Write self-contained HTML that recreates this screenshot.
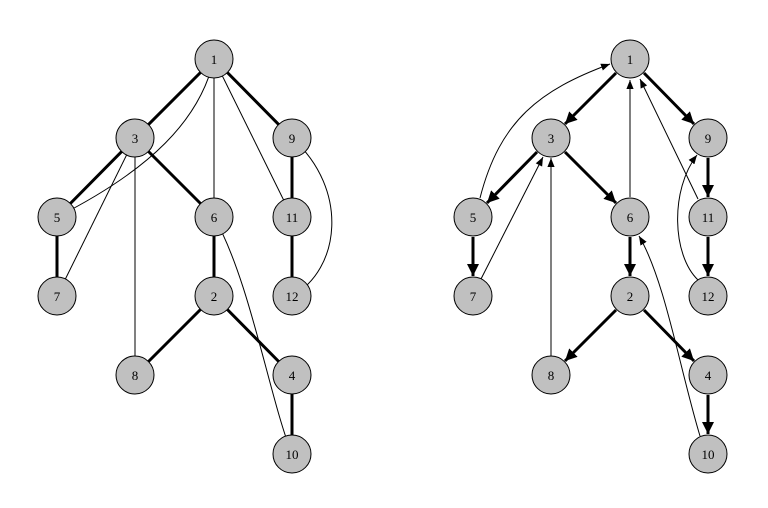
<!DOCTYPE html>
<html><head><style>body{margin:0;background:#fff}svg{display:block}</style></head><body>
<svg width="768" height="508" viewBox="0 0 768 508" xmlns="http://www.w3.org/2000/svg">
<defs>
<marker id="a" viewBox="0 0 10 10" refX="10" refY="5" markerWidth="4" markerHeight="4" orient="auto" markerUnits="strokeWidth"><path d="M0,0L10,5L0,10z" fill="#000"/></marker>
<marker id="b" viewBox="0 0 10 10" refX="10" refY="5" markerWidth="9" markerHeight="9" orient="auto" markerUnits="strokeWidth"><path d="M0,1L10,5L0,9z" fill="#000"/></marker>
</defs>
<g fill="none" stroke="#000">
<g stroke-width="1">
<path d="M214,59 C200,120 150,170 57,217"/>
<path d="M214,59 L214,217"/>
<path d="M214,59 L292,217"/>
<path d="M135,138 L57,296"/>
<path d="M135,138 L135,375"/>
<path d="M292,138 C350,190 340,270 292,296"/>
<path d="M214,217 C250,280 270,400 292,454"/>
</g>
<g stroke-width="3">
<path d="M214,59L135,138M214,59L292,138M135,138L57,217M135,138L214,217M57,217L57,296M292,138L292,217M292,217L292,296M214,217L214,296M214,296L135,375M214,296L292,375M292,375L292,454"/>
</g>
<g stroke-width="1" marker-end="url(#b)">
<path d="M480,198 C500,120 540,90 610,64"/>
<path d="M630,197 L630,80"/>
<path d="M698,199 L640,79"/>
<path d="M481,279 L543,157"/>
<path d="M551,356 L551,158"/>
<path d="M698,280 C672,255 670,190 697,155"/>
<path d="M700,436 C680,370 665,280 639,236"/>
</g>
<g stroke-width="3" marker-end="url(#a)">
<path d="M616,73L565,124"/>
<path d="M644,73L694,124"/>
<path d="M537,152L487,203"/>
<path d="M565,152L616,203"/>
<path d="M473,237L473,276"/>
<path d="M708,158L708,197"/>
<path d="M708,237L708,276"/>
<path d="M630,237L630,276"/>
<path d="M616,310L565,361"/>
<path d="M644,310L694,361"/>
<path d="M708,395L708,434"/>
</g>
</g>
<g fill="#c0c0c0" stroke="#000" stroke-width="1">
<circle cx="214" cy="59" r="19"/><circle cx="135" cy="138" r="19"/><circle cx="292" cy="138" r="19"/>
<circle cx="57" cy="217" r="19"/><circle cx="214" cy="217" r="19"/><circle cx="292" cy="217" r="19"/>
<circle cx="57" cy="296" r="19"/><circle cx="214" cy="296" r="19"/><circle cx="292" cy="296" r="19"/>
<circle cx="135" cy="375" r="19"/><circle cx="292" cy="375" r="19"/><circle cx="292" cy="454" r="19"/>
<circle cx="630" cy="59" r="19"/><circle cx="551" cy="138" r="19"/><circle cx="708" cy="138" r="19"/>
<circle cx="473" cy="217" r="19"/><circle cx="630" cy="217" r="19"/><circle cx="708" cy="217" r="19"/>
<circle cx="473" cy="296" r="19"/><circle cx="630" cy="296" r="19"/><circle cx="708" cy="296" r="19"/>
<circle cx="551" cy="375" r="19"/><circle cx="708" cy="375" r="19"/><circle cx="708" cy="454" r="19"/>
</g>
<g font-family="Liberation Serif, serif" font-size="13" text-anchor="middle" fill="#000">
<text x="214" y="64">1</text><text x="135" y="143">3</text><text x="292" y="143">9</text>
<text x="57" y="222">5</text><text x="214" y="222">6</text><text x="292" y="222">11</text>
<text x="57" y="301">7</text><text x="214" y="301">2</text><text x="292" y="301">12</text>
<text x="135" y="380">8</text><text x="292" y="380">4</text><text x="292" y="459">10</text>
<text x="630" y="64">1</text><text x="551" y="143">3</text><text x="708" y="143">9</text>
<text x="473" y="222">5</text><text x="630" y="222">6</text><text x="708" y="222">11</text>
<text x="473" y="301">7</text><text x="630" y="301">2</text><text x="708" y="301">12</text>
<text x="551" y="380">8</text><text x="708" y="380">4</text><text x="708" y="459">10</text>
</g>
</svg>
</body></html>
